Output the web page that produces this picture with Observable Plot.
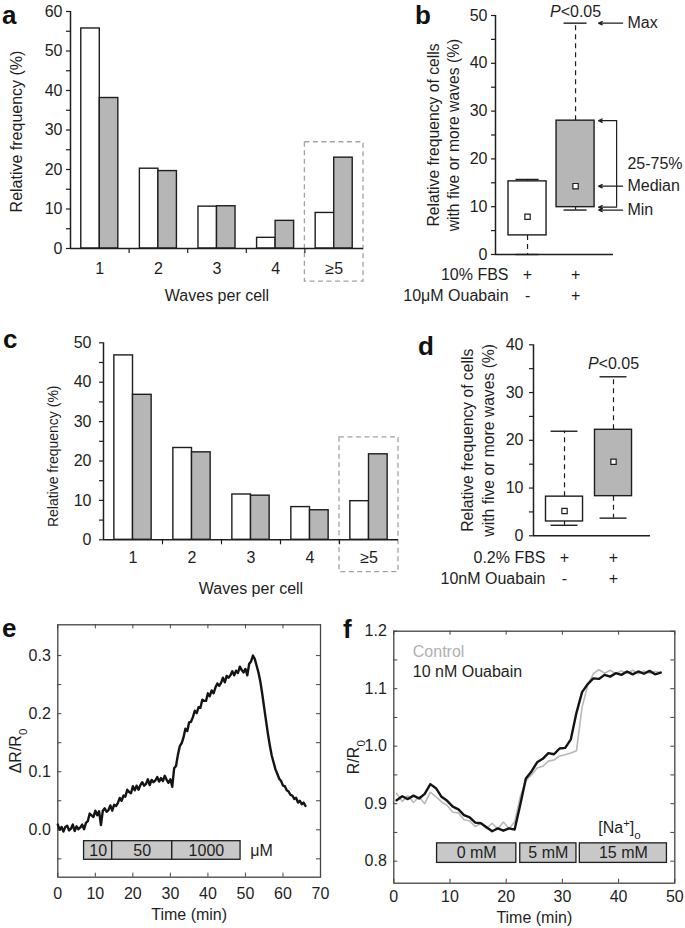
<!DOCTYPE html>
<html><head><meta charset="utf-8">
<script src="https://cdn.jsdelivr.net/npm/d3@7"></script>
<script src="https://cdn.jsdelivr.net/npm/@observablehq/plot@0.6"></script>
<style>
body{margin:0;background:#fff;}
#root{position:relative;width:685px;height:928px;overflow:hidden;background:#fff;}
</style></head><body><div id="root"></div>
<script>
// ---------- data ----------
const waveCats = ["1", "2", "3", "4", "≥5"];
const aControl = [55.7, 20.2, 10.6, 2.7, 9.0];
const aOuabain = [38.1, 19.6, 10.7, 7.0, 23.0];
const cControl = [46.8, 23.3, 11.5, 8.3, 9.8];
const cOuabain = [36.8, 22.2, 11.2, 7.5, 21.7];
const aYTicks = [0, 10, 20, 30, 40, 50, 60];
const aYMinor = [0, 5, 10, 15, 20, 25, 30, 35, 40, 45, 50, 55, 60];
const cYTicks = [0, 10, 20, 30, 40, 50];
const cYMinor = [0, 5, 10, 15, 20, 25, 30, 35, 40, 45, 50];
const waveLabel = "Waves per cell";
const freqLabel = "Relative frequency (%)";

const bMin = [0.0, 9.3], bQ1 = [4.0, 9.9], bMed = [7.9, 14.3], bQ3 = [15.3, 28.0], bMax = [15.7, 48.4];
const bRowLabels = ["10% FBS", "10μM Ouabain"];
const bFBS = ["+", "+"], bOua = ["-", "+"];
const bYTicks = [0, 10, 20, 30, 40, 50];
const bYMinor = [0, 5, 10, 15, 20, 25, 30, 35, 40, 45, 50];
const bNotes = ["Max", "25-75%", "Median", "Min"];

const dMin = [2.2, 3.7], dQ1 = [3.0, 8.3], dMed = [5.2, 15.5], dQ3 = [8.2, 22.2], dMax = [21.9, 33.3];
const dRowLabels = ["0.2% FBS", "10nM Ouabain"];
const dFBS = ["+", "+"], dOua = ["-", "+"];
const dYTicks = [0, 10, 20, 30, 40];
const dYMinor = [0, 5, 10, 15, 20, 25, 30, 35, 40];
const boxLabel = "Relative frequency of cells\nwith five or more waves (%)";
const pLabel = "P<0.05";

const eTime = [0,0.5,1,1.5,2,2.5,3,3.5,4,4.5,5,5.5,6,6.5,7,7.5,8,8.5,9,9.5,10,10.5,11,11.5,12,12.5,13,13.5,14,14.5,15,15.5,16,16.5,17,17.5,18,18.5,19,19.5,20,20.5,21,21.5,22,22.5,23,23.5,24,24.5,25,25.5,26,26.5,27,27.5,28,28.5,29,29.5,30,30.5,31,31.5,32,32.5,33,33.5,34,34.5,35,35.5,36,36.5,37,37.5,38,38.5,39,39.5,40,40.5,41,41.5,42,42.5,43,43.5,44,44.5,45,45.5,46,46.5,47,47.5,48,48.5,49,49.5,50,50.5,51,51.5,52,52.5,53,53.5,54,54.5,55,55.5,56,56.5,57,57.5,58,58.5,59,59.5,60,60.5,61,61.5,62,62.5,63,63.5,64,64.5,65,65.5,66];
const eRatio = [0.009,0.000,0.005,-0.003,0.005,0.007,-0.001,0.002,0.009,-0.002,0.006,0.001,0.004,0.009,0.001,0.012,0.015,0.028,0.025,0.022,0.033,0.025,0.032,0.008,0.033,0.037,0.031,0.034,0.042,0.033,0.043,0.041,0.046,0.055,0.050,0.059,0.057,0.069,0.065,0.063,0.075,0.068,0.076,0.069,0.077,0.082,0.076,0.079,0.087,0.077,0.086,0.082,0.085,0.091,0.083,0.089,0.084,0.093,0.086,0.081,0.087,0.074,0.106,0.110,0.129,0.144,0.149,0.159,0.174,0.170,0.185,0.186,0.194,0.205,0.201,0.211,0.210,0.224,0.222,0.222,0.235,0.230,0.240,0.235,0.245,0.252,0.248,0.253,0.262,0.254,0.265,0.262,0.266,0.273,0.266,0.274,0.270,0.281,0.275,0.271,0.277,0.266,0.286,0.290,0.300,0.294,0.282,0.270,0.254,0.233,0.210,0.187,0.165,0.145,0.128,0.116,0.104,0.096,0.088,0.084,0.076,0.075,0.068,0.066,0.060,0.059,0.053,0.055,0.047,0.050,0.044,0.047,0.041];
const eStimStart = [7, 14.5, 30.5];
const eStimEnd = [14.5, 30.5, 48.7];
const eStimLabels = ["10", "50", "1000"];
const eUnit = "μM";
const eXTicks = [0, 10, 20, 30, 40, 50, 60, 70];
const eYTicks = [0, 0.1, 0.2, 0.3];
const eYMinor = [-0.05, 0, 0.05, 0.1, 0.15, 0.2, 0.25, 0.3];

const fTime = [0.5,1.5,2.5,3.5,4.5,5.5,6.5,7.5,8.5,9.5,10.5,11.5,12.5,13.5,14.5,15.5,16.5,17.5,18.5,19.5,20.5,21.5,22.5,23.5,24.5,25.5,26.5,27.5,28.5,29.5,30.5,31.5,32.5,33.5,34.5,35.5,36.5,37.5,38.5,39.5,40.5,41.5,42.5,43.5,44.5,45.5,46.5,47.5];
const fOuabain = [0.906,0.913,0.908,0.914,0.909,0.917,0.934,0.927,0.912,0.905,0.895,0.890,0.880,0.876,0.867,0.866,0.859,0.852,0.857,0.853,0.857,0.855,0.898,0.944,0.956,0.972,0.978,0.988,0.986,0.996,0.997,1.012,1.058,1.094,1.108,1.118,1.117,1.124,1.121,1.127,1.124,1.130,1.125,1.130,1.126,1.131,1.125,1.128];
const fControl = [0.918,0.904,0.914,0.902,0.912,0.900,0.920,0.912,0.903,0.897,0.885,0.884,0.872,0.870,0.860,0.866,0.857,0.866,0.856,0.868,0.857,0.868,0.912,0.940,0.950,0.962,0.965,0.974,0.976,0.983,0.985,0.988,0.992,1.068,1.106,1.126,1.133,1.127,1.132,1.126,1.131,1.127,1.132,1.126,1.131,1.127,1.130,1.128];
const fStimStart = [7.7, 22.5, 33.1];
const fStimEnd = [21.8, 32.5, 48.6];
const fStimLabels = ["0 mM", "5 mM", "15 mM"];
const fSeries = ["Control", "10 nM Ouabain"];
const fXTicks = [0, 10, 20, 30, 40, 50];
const fYTicks = [0.8, 0.9, 1.0, 1.1, 1.2];
const fYMinor = [0.8, 0.85, 0.9, 0.95, 1.0, 1.05, 1.1, 1.15, 1.2];
const timeLabel = "Time (min)";

// ---------- helpers ----------
const root = document.getElementById("root");
const ink = "#1e1e1e";
const gray = "#b6b6b6";
const FONT = "'Liberation Sans', Arial, Helvetica, sans-serif";
function styleOf(size) {
  return {fontFamily: FONT, fontSize: size + "px", color: ink, background: "none", overflow: "visible", maxWidth: "none"};
}
function mount(svg, left, top) {
  svg.style.position = "absolute";
  svg.style.left = left + "px";
  svg.style.top = top + "px";
  rich(svg);
  root.appendChild(svg);
}
function rich(svg) {
  svg.querySelectorAll("text").forEach(t => {
    const s = t.textContent;
    const ns = "http://www.w3.org/2000/svg";
    const sp = (txt, attrs) => { const e = document.createElementNS(ns, "tspan"); e.textContent = txt; for (const k in attrs) e.setAttribute(k, attrs[k]); return e; };
    if (s === "P<0.05") {
      t.textContent = "";
      t.appendChild(sp("P", {"font-style": "italic"}));
      t.appendChild(sp("<0.05", {}));
    } else if (s === "ΔR/R0" || s === "R/R0") {
      t.textContent = "";
      t.appendChild(sp(s.slice(0, -1), {}));
      t.appendChild(sp("0", {"baseline-shift": "sub", "font-size": "72%"}));
    } else if (s === "[Na+]o") {
      t.textContent = "";
      t.appendChild(sp("[Na", {}));
      t.appendChild(sp("+", {"baseline-shift": "super", "font-size": "70%"}));
      t.appendChild(sp("]", {}));
      t.appendChild(sp("o", {"baseline-shift": "sub", "font-size": "72%"}));
    }
  });
}
function yTitle(label, dx, dy, size, lh) {
  return Plot.text([label], {frameAnchor: "left", textAnchor: "middle", lineAnchor: "middle", rotate: -90, dx, dy, fontSize: size, lineHeight: lh || 1});
}
function xTitle(label, dy) {
  return Plot.text([label], {frameAnchor: "bottom", textAnchor: "middle", lineAnchor: "middle", dy});
}

// ---------- bar panels (a, c) ----------
function barPanel(o) {
  const fw = o.width - o.ml - o.mr, fh = o.height - o.mt - o.mb;
  const idx = waveCats.map((_, i) => i);
  const bw = 0.316;
  const ymax = o.yTicks[o.yTicks.length - 1];
  return Plot.plot({
    width: o.width, height: o.height,
    marginTop: o.mt, marginBottom: o.mb, marginLeft: o.ml, marginRight: o.mr,
    style: styleOf(16),
    x: {domain: [0.5, 5.5]},
    y: {domain: [0, ymax]},
    marks: [
      Plot.rect([0], {x1: 4.5, x2: 5.5, y1: o.hiLo, y2: o.hiHi, fill: "none", stroke: "#a2a2a2", strokeWidth: 1.3, strokeDasharray: "5,3.5"}),
      Plot.rect(idx, {x1: i => i + 1 - bw, x2: i => i + 1, y1: 0, y2: i => o.ctrl[i], fill: "white", stroke: ink, strokeWidth: 1.4}),
      Plot.rect(idx, {x1: i => i + 1, x2: i => i + 1 + bw, y1: 0, y2: i => o.ouab[i], fill: gray, stroke: ink, strokeWidth: 1.4}),
      Plot.ruleY([0], {stroke: ink, strokeWidth: 1.5}),
      Plot.ruleX([0.5], {y1: 0, y2: ymax, stroke: ink, strokeWidth: 1.5}),
      Plot.tickY(o.yMinor, {y: d => d, insetLeft: -4, insetRight: fw, stroke: ink, strokeWidth: 1.2}),
      Plot.axisY({ticks: o.yTicks, tickSize: 0, tickPadding: o.yPad, label: null}),
      Plot.tickX([1.5, 2.5, 3.5, 4.5], {x: d => d, insetTop: fh, insetBottom: -5, stroke: ink, strokeWidth: 1.2}),
      Plot.axisX({ticks: [1, 2, 3, 4, 5], tickFormat: d => waveCats[d - 1], tickSize: 0, tickPadding: o.xPad, label: null}),
      yTitle(freqLabel, o.yLabDx, o.yLabDy, o.yLabSize),
      xTitle(waveLabel, o.xLabDy)
    ]
  });
}

mount(barPanel({ctrl: aControl, ouab: aOuabain, yTicks: aYTicks, yMinor: aYMinor, width: 380, height: 300,
  ml: 70, mr: 17, mt: 11, mb: 52, hiLo: -8.4, hiHi: 26.9, yPad: 8, xPad: 14,
  yLabDx: -54, yLabDy: 1.5, yLabSize: 16, xLabDy: 47}), 0, 0);

mount(barPanel({ctrl: cControl, ouab: cOuabain, yTicks: cYTicks, yMinor: cYMinor, width: 400, height: 290,
  ml: 103, mr: 2, mt: 42.3, mb: 50.7, hiLo: -8.2, hiHi: 26.0, yPad: 12, xPad: 12,
  yLabDx: -50, yLabDy: 15, yLabSize: 14, xLabDy: 49}), 0, 300);

// ---------- box panels (b, d) ----------
function boxPanel(o) {
  const fw = o.width - o.ml - o.mr;
  const idx = [0, 1];
  const ymax = o.yTicks[o.yTicks.length - 1];
  const hw = o.hw, cw = o.cw;
  const marks = [
    Plot.ruleX(idx, {x: i => i + 1, y1: i => o.q3[i], y2: i => o.max[i], stroke: ink, strokeWidth: 1.2, strokeDasharray: "5,4"}),
    Plot.ruleX(idx, {x: i => i + 1, y1: i => o.q1[i], y2: i => o.min[i], stroke: ink, strokeWidth: 1.2, strokeDasharray: "5,4"}),
    Plot.ruleY(idx, {y: i => o.max[i], x1: i => i + 1 - cw, x2: i => i + 1 + cw, stroke: ink, strokeWidth: 1.4}),
    Plot.ruleY(idx, {y: i => o.min[i], x1: i => i + 1 - cw, x2: i => i + 1 + cw, stroke: ink, strokeWidth: 1.4}),
    Plot.rect([0], {x1: i => i + 1 - hw, x2: i => i + 1 + hw, y1: i => o.q1[i], y2: i => o.q3[i], fill: "white", stroke: ink, strokeWidth: 1.4}),
    Plot.rect([1], {x1: i => i + 1 - hw, x2: i => i + 1 + hw, y1: i => o.q1[i], y2: i => o.q3[i], fill: gray, stroke: ink, strokeWidth: 1.4}),
    Plot.dot(idx, {x: i => i + 1, y: i => o.med[i], symbol: "square", r: 3, fill: "white", stroke: ink, strokeWidth: 1.2}),
    Plot.ruleY([0], {stroke: ink, strokeWidth: 1.5}),
    Plot.ruleX([o.x0], {y1: 0, y2: ymax, stroke: ink, strokeWidth: 1.5}),
    Plot.tickY(o.yMinor, {y: d => d, insetLeft: -4, insetRight: fw, stroke: ink, strokeWidth: 1.2}),
    Plot.axisY({ticks: o.yTicks, tickSize: 0, tickPadding: o.yPad, label: null}),
    Plot.text([pLabel], {x: 2, y: o.max[1], dy: o.pDy}),
    Plot.text([o.rows[0]], {x: 1, y: 0, dx: -19, dy: o.rowDy[0], textAnchor: "end"}),
    Plot.text(idx, {x: i => i + 1, y: 0, dy: o.rowDy[0], text: i => o.fbs[i]}),
    Plot.text([o.rows[1]], {x: 1, y: 0, dx: -19, dy: o.rowDy[1], textAnchor: "end"}),
    Plot.text(idx, {x: i => i + 1, y: 0, dy: o.rowDy[1], text: i => o.oua[i]}),
    yTitle(boxLabel, o.yLabDx, 0, 15.7, o.lh)
  ];
  if (o.notes) {
    const yv = [o.max[1], (o.q1[1] + o.q3[1]) / 2, o.med[1], o.min[1]];
    marks.push(
      Plot.arrow([o.max[1], o.med[1], o.min[1]], {x1: 2.98, x2: 2.48, y1: d => d, y2: d => d, headLength: 5, headAngle: 50, stroke: ink, strokeWidth: 1.2}),
      Plot.arrow([o.q3[1], o.q1[1]], {x1: 2.855, x2: 2.48, y1: d => d, y2: d => d, headLength: 5, headAngle: 50, stroke: ink, strokeWidth: 1.2}),
      Plot.ruleX([2.855], {y1: o.q1[1], y2: o.q3[1], stroke: ink, strokeWidth: 1.2}),
      Plot.text(bNotes, {x: 3.08, y: yv, textAnchor: "start"})
    );
  }
  return Plot.plot({
    width: o.width, height: o.height,
    marginTop: o.mt, marginBottom: o.mb, marginLeft: o.ml, marginRight: o.mr,
    style: styleOf(16),
    x: {domain: [o.x0, o.x1], axis: null},
    y: {domain: [0, ymax]},
    marks
  });
}

mount(boxPanel({min: bMin, q1: bQ1, med: bMed, q3: bQ3, max: bMax, rows: bRowLabels, fbs: bFBS, oua: bOua,
  yTicks: bYTicks, yMinor: bYMinor, width: 305, height: 300, ml: 115, mr: 72, mt: 15, mb: 46,
  x0: 0.333, x1: 2.79, hw: 0.396, cw: 0.24, yPad: 8, pDy: -11, rowDy: [20, 41], yLabDx: -53, lh: 1.25, notes: true}), 380, 0);

mount(boxPanel({min: dMin, q1: dQ1, med: dMed, q3: dQ3, max: dMax, rows: dRowLabels, fbs: dFBS, oua: dOua,
  yTicks: dYTicks, yMinor: dYMinor, width: 305, height: 290, ml: 153, mr: 35, mt: 44.3, mb: 54.7,
  x0: 0.367, x1: 2.755, hw: 0.378, cw: 0.275, yPad: 10, pDy: -13, rowDy: [22, 43], yLabDx: -57, lh: 1.38, notes: false}), 380, 300);

// ---------- trace panels (e, f) ----------
function tracePanel(o) {
  const fw = o.width - o.ml - o.mr, fh = o.height - o.mt - o.mb;
  const s = [0, 1, 2];
  const ymid = (o.stimY[0] + o.stimY[1]) / 2;
  return Plot.plot({
    width: o.width, height: o.height,
    marginTop: o.mt, marginBottom: o.mb, marginLeft: o.ml, marginRight: o.mr,
    style: styleOf(16),
    x: {domain: o.xd},
    y: {domain: o.yd},
    marks: [
      Plot.frame({stroke: "#444", strokeWidth: 1.3}),
      Plot.tickX(o.xTicks, {x: d => d, insetTop: fh - 4, stroke: "#444"}),
      Plot.tickX(o.xTicks, {x: d => d, insetBottom: fh - 4, stroke: "#444"}),
      Plot.tickY(o.yMinor, {y: d => d, insetRight: fw - 4, stroke: "#444"}),
      Plot.tickY(o.yMinor, {y: d => d, insetLeft: fw - 4, stroke: "#444"}),
      Plot.axisX({ticks: o.xTicks, tickSize: 0, tickPadding: o.xPad, label: null}),
      Plot.axisY({ticks: o.yTicks, tickSize: 0, tickPadding: 7, tickFormat: d3.format(".1f"), label: null}),
      Plot.rect(s, {x1: i => o.stimStart[i], x2: i => o.stimEnd[i], y1: o.stimY[0], y2: o.stimY[1], fill: "#c8c8c8", stroke: ink, strokeWidth: 1.3}),
      Plot.text(s, {x: i => (o.stimStart[i] + o.stimEnd[i]) / 2, y: ymid, text: i => o.stimLabels[i]}),
      ...o.extra,
      yTitle(o.yLabel, o.yLabDx, 0, 16),
      xTitle(timeLabel, o.xLabDy)
    ]
  });
}

const eIdx = eTime.map((_, i) => i);
mount(tracePanel({width: 340, height: 338, ml: 57.3, mr: 20, mt: 34.3, mb: 51.3,
  xd: [0, 70], yd: [-0.0816, 0.353], xTicks: eXTicks, yTicks: eYTicks, yMinor: eYMinor, xPad: 10,
  stimStart: eStimStart, stimEnd: eStimEnd, stimLabels: eStimLabels, stimY: [-0.0196, -0.0516],
  yLabel: "ΔR/R0", yLabDx: -42, xLabDy: 38,
  extra: [
    Plot.text([eUnit], {x: 51.3, y: -0.0356, textAnchor: "start"}),
    Plot.line(eIdx, {x: i => eTime[i], y: i => eRatio[i], stroke: "#141414", strokeWidth: 2.4, strokeLinejoin: "round"})
  ]}), 0, 590);

const fIdx = fTime.map((_, i) => i);
mount(tracePanel({width: 345, height: 338, ml: 53.3, mr: 10.7, mt: 40.7, mb: 45.3,
  xd: [0, 50], yd: [0.7617, 1.2], xTicks: fXTicks, yTicks: fYTicks, yMinor: fYMinor, xPad: 7,
  stimStart: fStimStart, stimEnd: fStimEnd, stimLabels: fStimLabels, stimY: [0.797, 0.831],
  yLabel: "R/R0", yLabDx: -40, xLabDy: 35,
  extra: [
    Plot.text(["[Na+]o"], {x: 36.4, y: 0.858, textAnchor: "start"}),
    Plot.line(fIdx, {x: i => fTime[i], y: i => fControl[i], stroke: "#b8b8b8", strokeWidth: 1.6}),
    Plot.line(fIdx, {x: i => fTime[i], y: i => fOuabain[i], stroke: "#141414", strokeWidth: 2.4, strokeLinejoin: "round"}),
    Plot.text([fSeries[0]], {frameAnchor: "top-left", dx: 19, dy: 21, textAnchor: "start", lineAnchor: "middle", fill: "#b0b0b0"}),
    Plot.text([fSeries[1]], {frameAnchor: "top-left", dx: 19, dy: 41, textAnchor: "start", lineAnchor: "middle"})
  ]}), 340, 590);

// ---------- panel letters ----------
const letters = [["a", 2, 24], ["b", 415, 24], ["c", 3, 348], ["d", 418, 355], ["e", 2, 637], ["f", 343, 638]];
const ov = d3.select(root).append("svg").attr("width", 685).attr("height", 928)
  .style("position", "absolute").style("left", "0px").style("top", "0px").style("pointer-events", "none");
ov.selectAll("text").data(letters).join("text")
  .attr("x", d => d[1]).attr("y", d => d[2]).text(d => d[0])
  .attr("font-family", FONT).attr("font-weight", "bold").attr("font-size", 26).attr("fill", "#111");
</script></body></html>
